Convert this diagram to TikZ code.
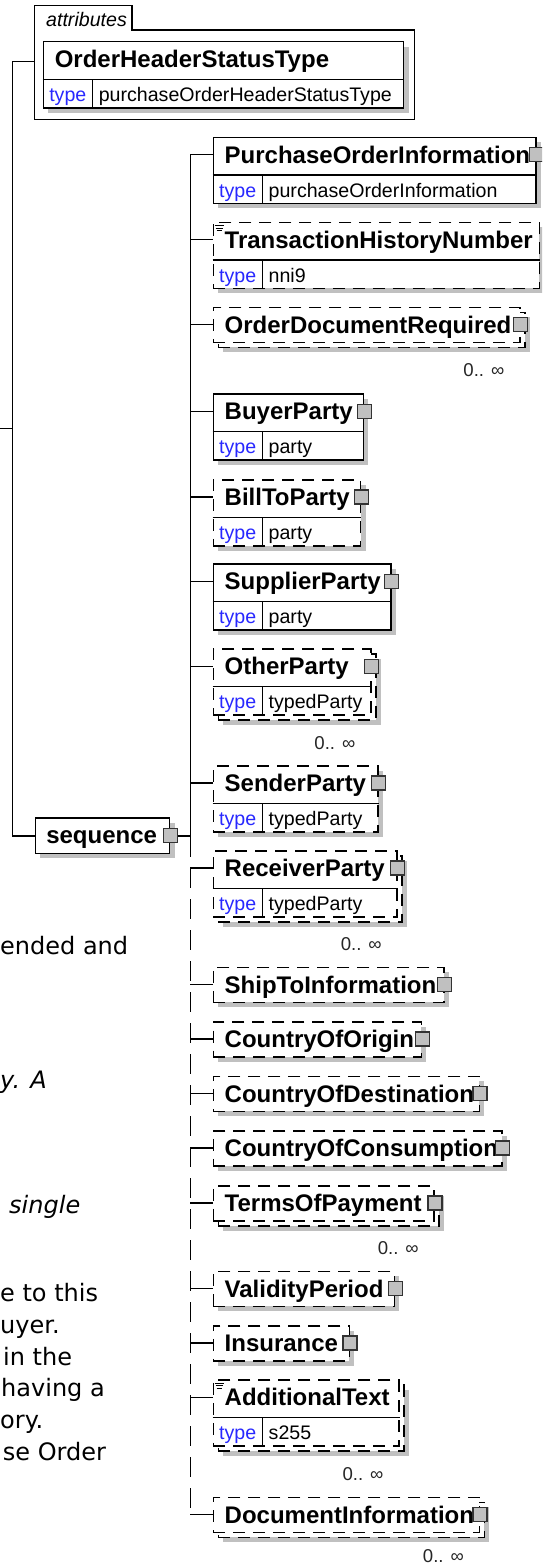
\documentclass[tikz,border=0pt]{standalone}
\usepackage{fontspec}
\usepackage{tikz}
\usetikzlibrary{shadows}
\newfontfamily\diafont{Liberation Sans}
\newfontfamily\docfont{DejaVu Sans}
\definecolor{typeblue}{RGB}{40,40,255}
\definecolor{shadegray}{RGB}{192,192,192}
\tikzset{
	elem/.style={draw, fill=white, line width=1.5pt, anchor=north west, inner sep=0pt, drop shadow={shadow xshift=5pt, shadow yshift=-5pt, fill=shadegray, opacity=1}},
	front/.style={draw, fill=white, line width=1.5pt, anchor=north west, inner sep=0pt},
	optional/.style={dash pattern=on 12pt off 8pt},
	rowline/.style={line width=1.5pt, solid},
	wire/.style={line width=1.5pt},
	trunkdash/.style={dash pattern=on 20pt off 11pt},
	elname/.style={anchor=base west, inner sep=0pt, font=\diafont\bfseries\fontsize{24}{28}\selectfont},
	typelbl/.style={anchor=base west, inner sep=0pt, text=typeblue, font=\diafont\fontsize{19.6}{23}\selectfont},
	typeval/.style={anchor=base west, inner sep=0pt, font=\diafont\fontsize{19.6}{23}\selectfont},
	occurs/.style={anchor=east, inner sep=0pt, text=black!85, font=\diafont\fontsize{18.6}{22}\selectfont},
	expander/.style={draw=black!80, fill=shadegray, line width=1.2pt, minimum size=14pt, inner sep=0pt},
	iconline/.style={line width=1pt},
	doctext/.style={anchor=base west, inner sep=0pt, font=\docfont\fontsize{24}{29}\selectfont}
}
% one element box, hooked to the spine
\def\elem[#1](#2)(#3,#4)(#5,#6){%
	\node[elem,#1,minimum width=#5pt,minimum height=#6pt] (#2) at (#3,#4) {};
	\coordinate (#2-c) at ([yshift=-18pt]#2.north west);
	\draw[wire] (spine |- #2-c) -- (#2-c);}
% element with maxOccurs > 1: copy behind it
\def\elems[#1](#2)(#3,#4)(#5,#6){%
	\node[elem,#1,minimum width=#5pt,minimum height=#6pt] (#2-b) at (#3+5,#4+5) {};
	\node[front,#1,minimum width=#5pt,minimum height=#6pt] (#2) at (#3,#4) {};
	\coordinate (#2-c) at ([yshift=-18pt]#2.north west);
	\draw[wire] (spine |- #2-c) -- (#2-c);}
\def\occ[#1](#2){\node[occurs,#1] (#2-o) at ([shift={(-21pt,-22pt)}]#2-b.south east) {0.. ∞};}
\def\elname(#1)#2{\node[elname] (#1-n) at ([shift={(12pt,-26.6pt)}]#1.north west) {#2};}
\def\typerow(#1)#2{%
	\draw[rowline] ([yshift=-38.4pt]#1.north west) -- ([yshift=-38.4pt]#1.north east);
	\draw[rowline] ([shift={(50pt,-38.4pt)}]#1.north west) -- ([xshift=50pt]#1.south west);
	\node[typelbl] (#1-t) at ([shift={(6.5pt,7pt)}]#1.south west) {type};
	\node[typeval] (#1-v) at ([shift={(56pt,7pt)}]#1.south west) {#2};}
\def\expbox(#1){\node[expander] (#1-x) at (#1.east |- #1-c) {};}
\def\txticon(#1){%
	\draw[iconline] ([shift={(2pt,-4pt)}]#1.north west) -- ++(9pt,0pt);
	\draw[iconline] ([shift={(3pt,-6.5pt)}]#1.north west) -- ++(7pt,0pt);
	\draw[iconline] ([shift={(4pt,-9pt)}]#1.north west) -- ++(5pt,0pt);}

\begin{document}
\begin{tikzpicture}[x=1pt, y=-1pt]
		%%%%% START %%%%%
		\useasboundingbox (0,0) rectangle (542,1563);
		\clip (0,0) rectangle (542,1563);
		
		\coordinate (spine) at (190.4,0);
		\coordinate (lspine) at (12.5,0);
		\coordinate (root) at (0,428.3);
		\coordinate (split) at (190.4,857);
		
		% text of the page beside the diagram
		\node[doctext] (d1) at (0,954.3) {ended and};
		\node[doctext] (d2) at (0,1088.3) {\itshape y. A};
		\node[doctext] (d3) at (9,1213.3) {\itshape single};
		\node[doctext] (d4) at (0,1301.7) {e to this};
		\node[doctext] (d5) at (0,1333.4) {uyer.};
		\node[doctext] (d6) at (3,1365.1) {in the};
		\node[doctext] (d7) at (1,1396.8) {having a};
		\node[doctext] (d8) at (0,1428.5) {ory.};
		\node[doctext] (d9) at (2.7,1460.2) {se Order};
		
		% attributes group
		\draw[wire] (34.7,119.3) -- (34.7,5.7) -- (131.8,5.7) -- (131.8,30) -- (414.3,30) -- (414.3,119.3) -- cycle;
		\node[typeval, font=\diafont\itshape\fontsize{19.6}{23}\selectfont] (attrs-l) at (46,27) {attributes};
		\coordinate (attrs-c) at (34.7,61.7);
		\node[elem, minimum width=360.3pt, minimum height=66pt] (ohst) at (42.6,41) {};
		\elname(ohst){OrderHeaderStatusType}
		\typerow(ohst){purchaseOrderHeaderStatusType}
		
		% sequence
		\node[elem, minimum width=134.2pt, minimum height=35.4pt] (seq) at (34.7,817.3) {};
		\node[elname] (seq-n) at ([shift={(11.4pt,-26.3pt)}]seq.north west) {sequence};
		\node[expander] (seq-x) at (seq.east) {};
		\draw[wire] (root) -- (lspine |- root);
		\draw[wire] (attrs-c) -| (lspine |- seq.west) -- (seq.west);
		\draw[wire] (seq-x.east) -- (spine |- seq-x);
		
		% children
		\elem[solid](poi)(212.5,136.7)(322.5,66)
		\elname(poi){PurchaseOrderInformation}
		\typerow(poi){purchaseOrderInformation}
		\expbox(poi)
		
		\elem[optional](thn)(212.5,221.7)(326,66)
		\elname(thn){TransactionHistoryNumber}
		\typerow(thn){nni9}
		\txticon(thn)
		
		\elems[optional](odr)(212.5,306.7)(306.5,35)
		\elname(odr){OrderDocumentRequired}
		\expbox(odr)
		\occ[](odr)
		
		\elem[solid](buyer)(212.5,393.3)(150.2,66)
		\elname(buyer){BuyerParty}
		\typerow(buyer){party}
		\expbox(buyer)
		
		\elem[optional](billto)(212.5,479)(147.4,66)
		\elname(billto){BillToParty}
		\typerow(billto){party}
		\expbox(billto)
		
		\elem[solid](supplier)(212.5,563.3)(177.5,66)
		\elname(supplier){SupplierParty}
		\typerow(supplier){party}
		\expbox(supplier)
		
		\elems[optional](other)(212.5,648.3)(157.5,66)
		\elname(other){OtherParty}
		\typerow(other){typedParty}
		\expbox(other)
		\occ[](other)
		
		\elem[optional](sender)(212.5,765)(164.8,66)
		\elname(sender){SenderParty}
		\typerow(sender){typedParty}
		\expbox(sender)
		
		\elems[optional](receiver)(212.5,850)(183.8,66)
		\elname(receiver){ReceiverParty}
		\typerow(receiver){typedParty}
		\expbox(receiver)
		\occ[](receiver)
		
		\elem[optional](shipto)(212.5,966.7)(230.6,35)
		\elname(shipto){ShipToInformation}
		\expbox(shipto)
		
		\elem[optional](origin)(212.5,1021)(208.1,35)
		\elname(origin){CountryOfOrigin}
		\expbox(origin)
		
		\elem[optional](dest)(212.5,1075.7)(266,35)
		\elname(dest){CountryOfDestination}
		\expbox(dest)
		
		\elem[optional](consum)(212.5,1130)(288.5,35)
		\elname(consum){CountryOfConsumption}
		\expbox(consum)
		
		\elems[optional](terms)(212.5,1185)(220.9,35)
		\elname(terms){TermsOfPayment}
		\expbox(terms)
		\occ[](terms)
		
		\elem[optional](validity)(212.5,1270.7)(181.1,35)
		\elname(validity){ValidityPeriod}
		\expbox(validity)
		
		\elem[optional](insur)(212.5,1325)(136,35)
		\elname(insur){Insurance}
		\expbox(insur)
		
		\elems[optional](addtext)(212.5,1379.3)(185.6,66)
		\elname(addtext){AdditionalText}
		\typerow(addtext){s255}
		\txticon(addtext)
		\occ[](addtext)
		
		\elems[optional](docinfo)(212.5,1496.7)(266,35)
		\elname(docinfo){DocumentInformation}
		\expbox(docinfo)
		\occ[yshift=4.5pt](docinfo)
		
		% spine of the sequence
		\draw[wire] (spine |- poi-c) -- (split);
		\draw[wire, trunkdash] (spine |- receiver-c) -- (spine |- docinfo-c);
		
		%%%%% END %%%%%
\end{tikzpicture}
\end{document}
